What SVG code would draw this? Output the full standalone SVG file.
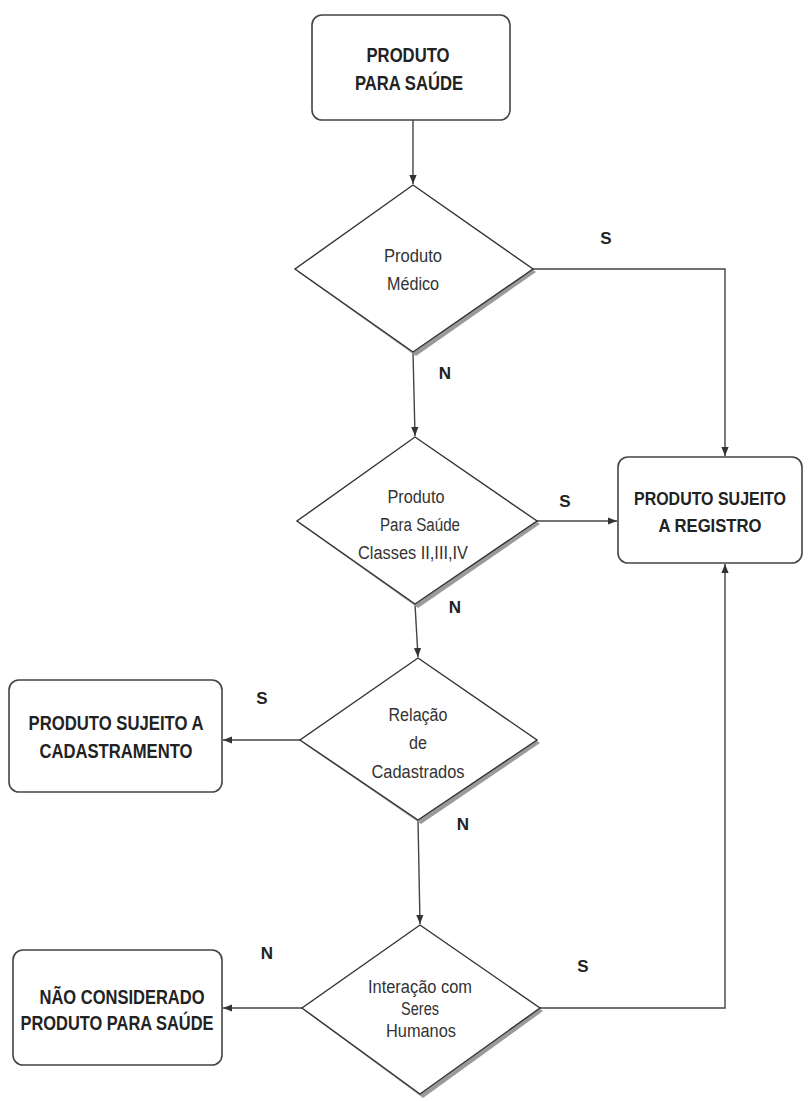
<svg xmlns="http://www.w3.org/2000/svg" width="811" height="1101" viewBox="0 0 811 1101">
<defs>
<style>
.box{fill:#fff;stroke:#444;stroke-width:1.6}
.dia{fill:#fff;stroke:#333;stroke-width:1.4}
.sh{fill:#9a9a9a;stroke:none}
.bt{font-family:"Liberation Sans",Arial,sans-serif;font-weight:bold;font-size:20px;fill:#222;text-anchor:middle}
.bs{font-size:18px}
.dt{font-family:"Liberation Sans",Arial,sans-serif;font-size:18px;fill:#333;text-anchor:middle}
.lb{font-family:"Liberation Sans",Arial,sans-serif;font-weight:bold;font-size:17px;fill:#222;text-anchor:middle}
.ln{fill:none;stroke:#444;stroke-width:1.4}
</style>
<marker id="ah" viewBox="0 0 10 10" refX="10" refY="5" markerWidth="9" markerHeight="9" markerUnits="userSpaceOnUse" orient="auto">
<path d="M0,1 L10,5 L0,9 Z" fill="#333"/>
</marker>
</defs>
<rect width="811" height="1101" fill="#fff"/>
<g id="connectors">
<path class="ln" d="M413,120 L413,184" marker-end="url(#ah)"/>
<path class="ln" d="M413,352 L415,436" marker-end="url(#ah)"/>
<path class="ln" d="M415,604 L418,657" marker-end="url(#ah)"/>
<path class="ln" d="M418,820 L420,924" marker-end="url(#ah)"/>
<path class="ln" d="M533,269 L725,269 L725,456" marker-end="url(#ah)"/>
<path class="ln" d="M537,521 L617,521" marker-end="url(#ah)"/>
<path class="ln" d="M300,740 L223,740" marker-end="url(#ah)"/>
<path class="ln" d="M302,1008 L223,1008" marker-end="url(#ah)"/>
<path class="ln" d="M540,1008 L725,1008 L725,564" marker-end="url(#ah)"/>
<text class="lb" x="606" y="244">S</text>
<text class="lb" x="445" y="379">N</text>
<text class="lb" x="565" y="507">S</text>
<text class="lb" x="455" y="613">N</text>
<text class="lb" x="262" y="704">S</text>
<text class="lb" x="463" y="830">N</text>
<text class="lb" x="267" y="959">N</text>
<text class="lb" x="583" y="972">S</text>
</g>
<g id="n1">
<rect class="box" x="312" y="15" width="198" height="105" rx="10"/>
<text class="bt" x="408" y="62" textLength="83" lengthAdjust="spacingAndGlyphs">PRODUTO</text>
<text class="bt" x="409" y="90" textLength="108" lengthAdjust="spacingAndGlyphs">PARA SAÚDE</text>
</g>
<g id="d1">
<polygon class="sh" points="416,189 536,272 416,356 298,272"/>
<polygon class="dia" points="413,185 533,269 413,352 295,269"/>
<text class="dt" x="413" y="262" textLength="58" lengthAdjust="spacingAndGlyphs">Produto</text>
<text class="dt" x="413" y="290" textLength="52" lengthAdjust="spacingAndGlyphs">Médico</text>
</g>
<g id="n2">
<rect class="box" x="618" y="457" width="184" height="106" rx="10"/>
<text class="bt bs" x="710" y="505" textLength="152" lengthAdjust="spacingAndGlyphs">PRODUTO SUJEITO</text>
<text class="bt bs" x="710" y="532" textLength="103" lengthAdjust="spacingAndGlyphs">A REGISTRO</text>
</g>
<g id="d2">
<polygon class="sh" points="418,441 540,524 418,608 300,524"/>
<polygon class="dia" points="415,437 537,521 415,604 297,521"/>
<text class="dt" x="416" y="503" textLength="57" lengthAdjust="spacingAndGlyphs">Produto</text>
<text class="dt" x="420" y="531" textLength="80" lengthAdjust="spacingAndGlyphs">Para Saúde</text>
<text class="dt" x="413" y="559" textLength="110" lengthAdjust="spacingAndGlyphs">Classes II,III,IV</text>
</g>
<g id="d3">
<polygon class="sh" points="421,662 540,743 421,824 303,743"/>
<polygon class="dia" points="418,658 537,740 418,820 300,740"/>
<text class="dt" x="418" y="721" textLength="59" lengthAdjust="spacingAndGlyphs">Relação</text>
<text class="dt" x="418" y="749" textLength="18" lengthAdjust="spacingAndGlyphs">de</text>
<text class="dt" x="418" y="778" textLength="93" lengthAdjust="spacingAndGlyphs">Cadastrados</text>
</g>
<g id="n3">
<rect class="box" x="9" y="680" width="213" height="112" rx="10"/>
<text class="bt" x="116" y="730" textLength="175" lengthAdjust="spacingAndGlyphs">PRODUTO SUJEITO A</text>
<text class="bt" x="116" y="758" textLength="153" lengthAdjust="spacingAndGlyphs">CADASTRAMENTO</text>
</g>
<g id="d4">
<polygon class="sh" points="423,929 543,1011 423,1098 305,1011"/>
<polygon class="dia" points="420,925 540,1008 420,1094 302,1008"/>
<text class="dt" x="420" y="993" textLength="104" lengthAdjust="spacingAndGlyphs">Interação com</text>
<text class="dt" x="420" y="1015" textLength="38" lengthAdjust="spacingAndGlyphs">Seres</text>
<text class="dt" x="421" y="1037" textLength="70" lengthAdjust="spacingAndGlyphs">Humanos</text>
</g>
<g id="n4">
<rect class="box" x="13" y="950" width="209" height="115" rx="10"/>
<text class="bt" x="122" y="1004" textLength="165" lengthAdjust="spacingAndGlyphs">NÃO CONSIDERADO</text>
<text class="bt" x="117" y="1030" textLength="193" lengthAdjust="spacingAndGlyphs">PRODUTO PARA SAÚDE</text>
</g>
</svg>
